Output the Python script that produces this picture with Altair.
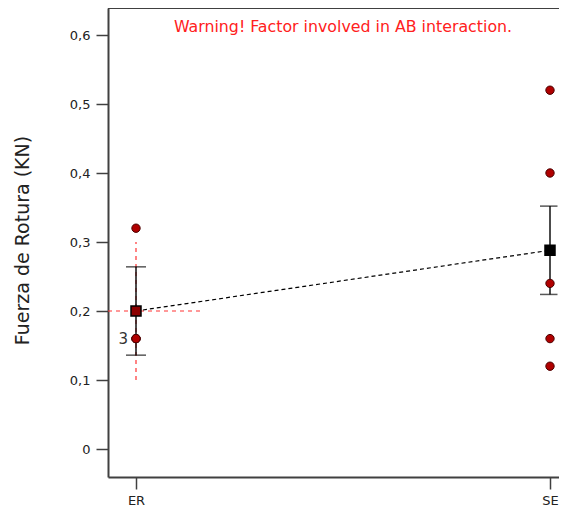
import altair as alt
import pandas as pd

categories = ["ER", "SE"]
er_values = [0.32, 0.16, 0.16, 0.16]
se_values = [0.52, 0.40, 0.24, 0.16, 0.12]
means = [0.20, 0.288]
ci_low = [0.136, 0.224]
ci_high = [0.264, 0.352]
lsd_low = [0.10]
lsd_high = [0.30]
mean_fill = ["#8b0000", "#000000"]
count_label = "3"
count_value = 0.16
warning = "Warning! Factor involved in AB interaction."

W, H = 451, 469
xdom = [-28 / 414, (W - 28) / 414]
ydom = [-28 / 690, 0.6 + 27 / 690]

pts = pd.DataFrame(
    {"x": [0] * len(er_values) + [1] * len(se_values),
     "y": er_values + se_values}
)
mdf = pd.DataFrame({"x": [0, 1], "cat": categories, "mean": means,
                    "lo": ci_low, "hi": ci_high, "fill": mean_fill})

xsc = alt.Scale(domain=xdom, nice=False, zero=False)
ysc = alt.Scale(domain=ydom, nice=False, zero=False)

axis_color = "#404040"
xaxis = alt.Axis(values=[0, 1], labelExpr="datum.value == 0 ? 'ER' : 'SE'",
                 title=None, tickSize=12, tickColor=axis_color, tickWidth=1.5,
                 domainColor=axis_color, domainWidth=2, grid=False,
                 labelFont="DejaVu Sans", labelFontSize=13, labelColor="#222",
                 labelPadding=5)
yaxis = alt.Axis(values=[0, 0.1, 0.2, 0.3, 0.4, 0.5, 0.6],
                 labelExpr="datum.value == 0 ? '0' : replace(format(datum.value, '.1f'), '.', ',')",
                 title="Fuerza de Rotura (KN)", titleFont="DejaVu Sans",
                 titleFontSize=19, titleFontWeight="normal", titleColor="#222",
                 titleX=-86, titleY=232, titleAngle=270, titleAlign="center",
                 titleBaseline="middle",
                 tickSize=12, tickColor=axis_color, tickWidth=1.5,
                 domainColor=axis_color, domainWidth=2, grid=False,
                 labelFont="DejaVu Sans", labelFontSize=13, labelColor="#222",
                 labelPadding=6)

X = lambda f: alt.X(f, scale=xsc, axis=xaxis)
Y = lambda f: alt.Y(f, scale=ysc, axis=yaxis)

hline = alt.Chart(pd.DataFrame({"x0": [xdom[0]], "x1": [0.155], "y": [means[0]]})).mark_rule(
    color="#ff3333", strokeDash=[4, 4], strokeWidth=1.2).encode(
    x=X("x0:Q"), x2="x1:Q", y=Y("y:Q"))

lsd = alt.Chart(pd.DataFrame({"x": [0], "lo": lsd_low, "hi": lsd_high})).mark_rule(
    color="#ff3333", strokeDash=[4, 4], strokeWidth=1.2).encode(
    x=X("x:Q"), y=Y("lo:Q"), y2="hi:Q")

meanline = alt.Chart(mdf).mark_line(color="#000000", strokeDash=[4, 3],
                                   strokeWidth=1.2).encode(
    x=X("x:Q"), y=Y("mean:Q"))

ebar = alt.Chart(mdf).mark_rule(color="#111111", strokeWidth=1.5).encode(
    x=X("x:Q"), y=Y("lo:Q"), y2="hi:Q")

cap_lo = alt.Chart(mdf).mark_tick(color="#111111", thickness=1.5, size=20,
                                  orient="horizontal").encode(
    x=X("x:Q"), y=Y("lo:Q"))
cap_hi = alt.Chart(mdf).mark_tick(color="#111111", thickness=1.5, size=20,
                                  orient="horizontal").encode(
    x=X("x:Q"), y=Y("hi:Q"))

points = alt.Chart(pts).mark_circle(size=70, color="#b00000", stroke="#4a0000",
                                    strokeWidth=1, opacity=1).encode(
    x=X("x:Q"), y=Y("y:Q"))

squares = alt.Chart(mdf).mark_point(shape="square", size=100, filled=True,
                                    stroke="#000000", strokeWidth=1.5,
                                    opacity=1).encode(
    x=X("x:Q"), y=Y("mean:Q"),
    fill=alt.Fill("fill:N", scale=None))

count_txt = alt.Chart(pd.DataFrame({"x": [0], "y": [count_value], "t": [count_label]})).mark_text(
    align="right", baseline="middle", dx=-8, font="DejaVu Sans", fontSize=15,
    color="#333333").encode(
    x=X("x:Q"), y=Y("y:Q"), text="t:N")

warn = alt.Chart(pd.DataFrame({"t": [warning]})).mark_text(
    align="center", baseline="middle", font="DejaVu Sans", fontSize=15.8,
    color="#ff2020").encode(
    x=alt.value(235), y=alt.value(19), text="t:N")

# mask for the right edge of the view (plot continues off-page in the original)
mask = alt.Chart(pd.DataFrame({"x": [xdom[1]], "y0": [ydom[0] + 0.003], "y1": [ydom[1] - 0.003]})).mark_rule(
    color="white", strokeWidth=3).encode(
    x=X("x:Q"), y=Y("y0:Q"), y2="y1:Q")

topline = alt.Chart(pd.DataFrame({"x0": [xdom[0]], "x1": [xdom[1]], "y": [ydom[1]]})).mark_rule(
    color=axis_color, strokeWidth=2).encode(
    x=X("x0:Q"), x2="x1:Q", y=Y("y:Q"))

chart = alt.layer(hline, lsd, meanline, ebar, cap_lo, cap_hi, points, squares,
                  count_txt, warn, mask, topline).properties(
    width=W, height=H,
    background="white",
    autosize=alt.AutoSizeParams(type="none"),
    padding={"left": 100, "top": 0, "right": 0, "bottom": 30},
).configure_view(stroke="transparent", strokeWidth=0).configure_axis(
    labelFont="DejaVu Sans", labelFontSize=13, labelColor="#222")

chart.save("out.html", embed_options={"renderer": "svg", "actions": False})
